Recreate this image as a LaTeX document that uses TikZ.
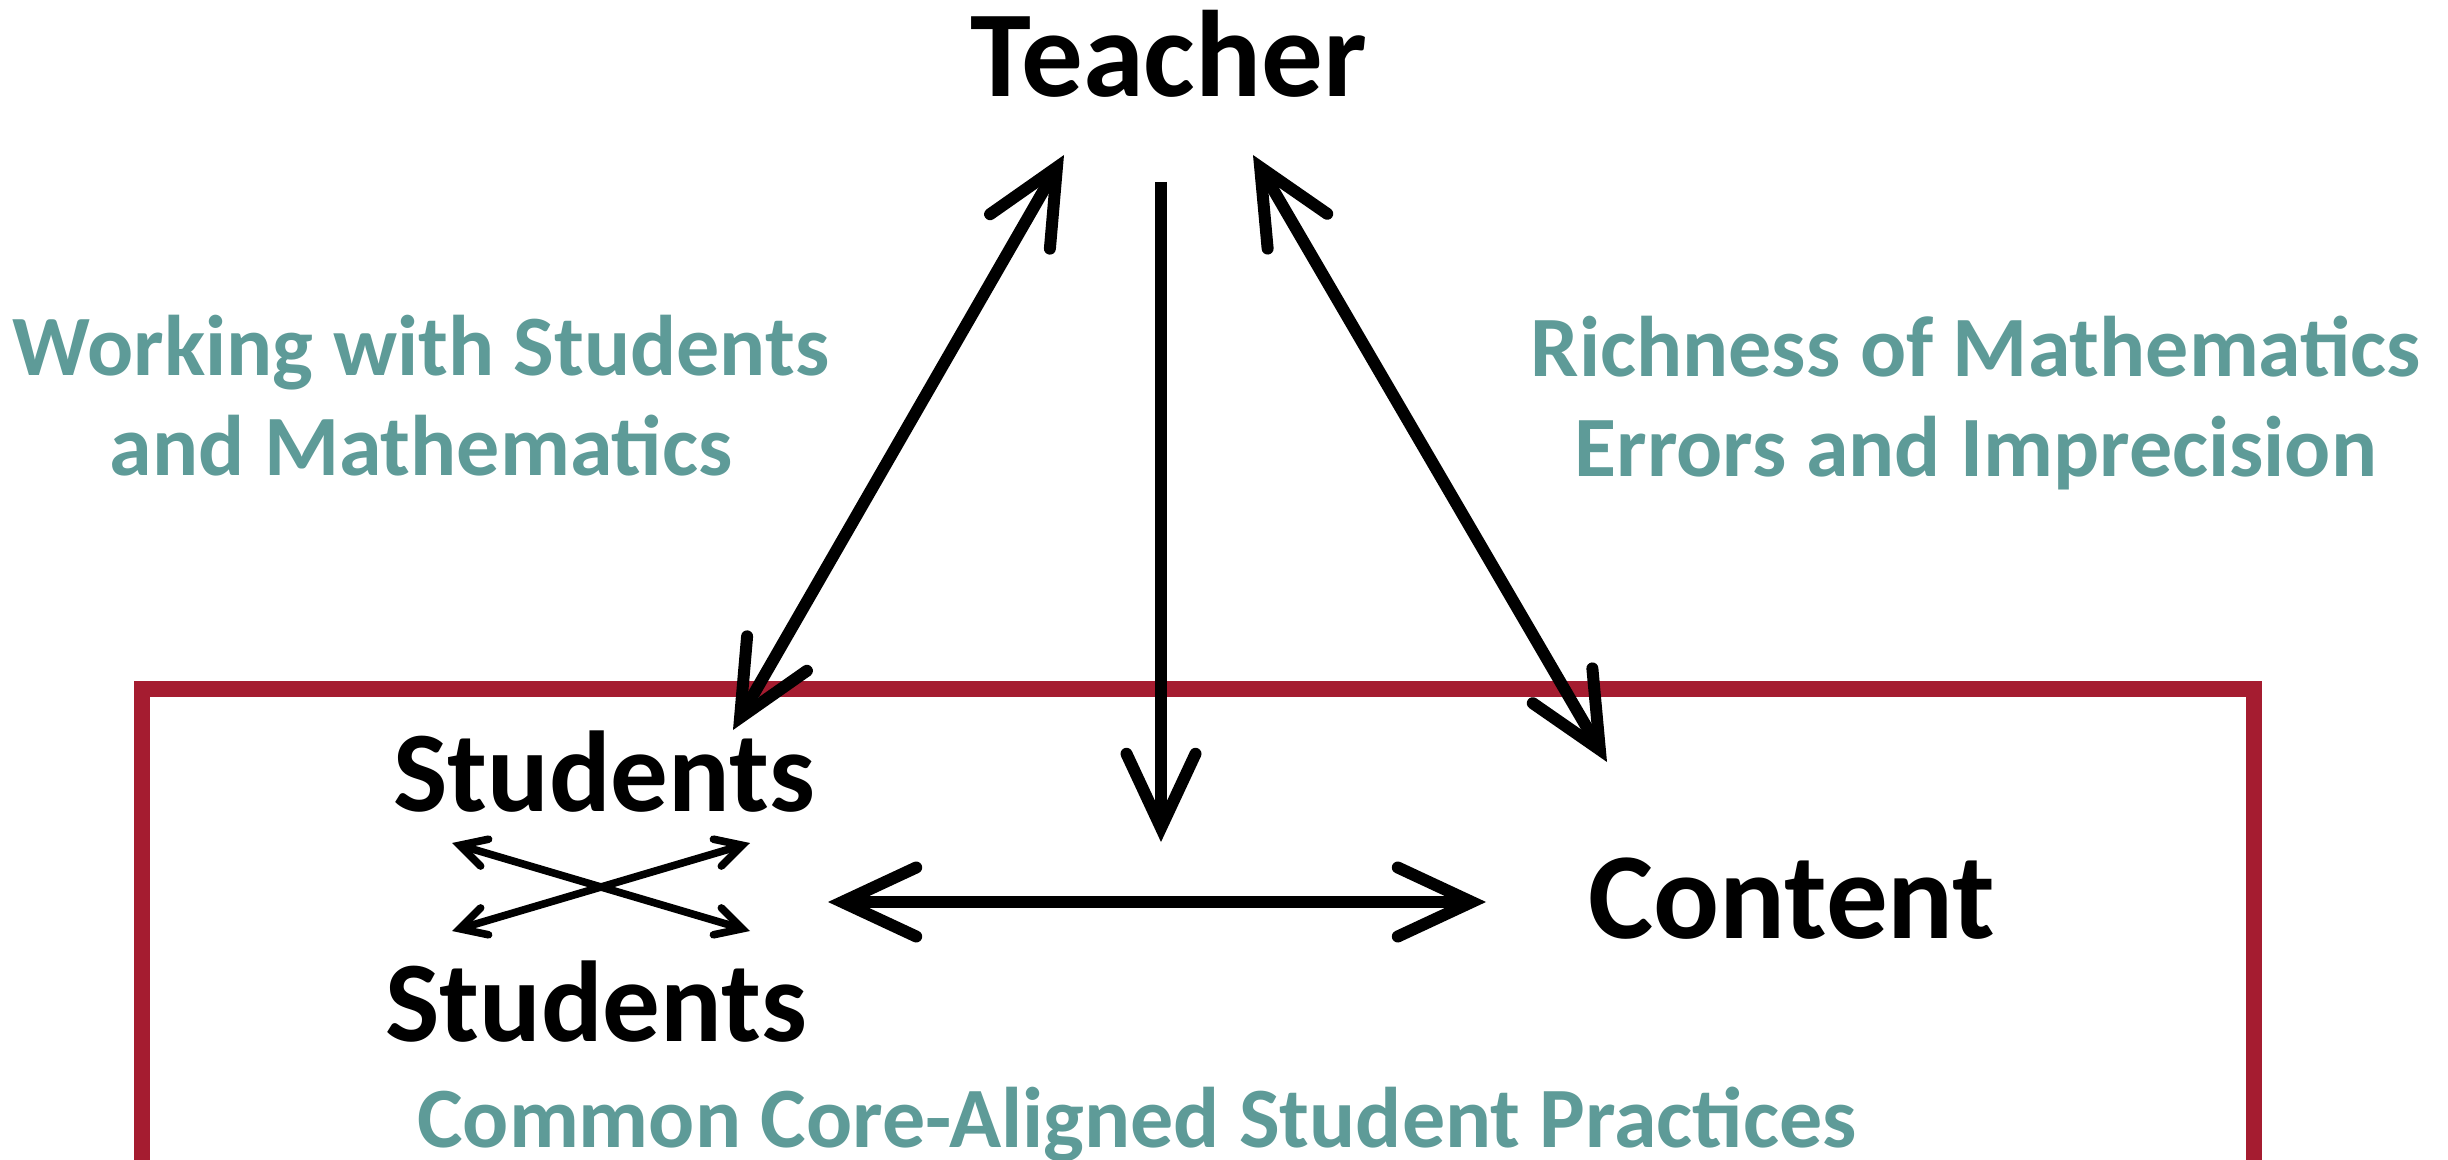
\documentclass[tikz,border=0pt]{standalone}
\usepackage{fontspec}
\setmainfont{Carlito}
\usetikzlibrary{arrows.meta}
\definecolor{labelteal}{RGB}{94,155,152}
\definecolor{boxred}{RGB}{165,28,48}
\tikzset{
  bighead/.tip={Straight Barb[length=37pt,width=34.5pt,line cap=round,line join=miter]},
  smallhead/.tip={Straight Barb[length=13pt,width=14pt,line cap=round,line join=miter]},
  bigarrow/.style={draw=black,line width=6pt},
  smallarrow/.style={draw=black,line width=3.8pt},
  mainlabel/.style={font=\bfseries\fontsize{61.5}{70}\selectfont,inner sep=0pt,anchor=base},
  studlabel/.style={font=\bfseries\fontsize{57.5}{66}\selectfont,inner sep=0pt,anchor=base},
  themelabel/.style={font=\bfseries\fontsize{43}{50}\selectfont,text=labelteal,inner sep=0pt,anchor=base,align=center},
  frame/.style={draw=boxred,line width=8pt,line join=miter}
}
\begin{document}
\begin{tikzpicture}[x=0.5pt,y=-0.5pt]
\clip (0,0) rectangle (2448,1160);
\fill[white] (0,0) rectangle (2448,1160);
% frame
\draw[frame] (142,1220) -- (142,689) -- (2254,689) -- (2254,1220);
% labels
\node[mainlabel] (teacher) at (1169,97) {Teacher};
\node[studlabel] (stud1) at (604,811) {Students};
\node[studlabel] (stud2) at (596,1041) {Students};
\node[mainlabel] (content) at (1792,938) {Content};
\node[themelabel] (work) at (421,476) {Working with Students\\and Mathematics};
\node[themelabel] (rich) at (1976,477) {Richness of Mathematics\\Errors and Imprecision};
\node[themelabel] (common) at (1137,1147) {Common Core-Aligned Student Practices};
% arrow end points
\coordinate (tL) at (1064,155);
\coordinate (sL) at (733,730);
\coordinate (tM) at (1161,182);
\coordinate (cM) at (1161,842);
\coordinate (tR) at (1253,155);
\coordinate (cR) at (1607,762);
\coordinate (hL) at (828,902);
\coordinate (hR) at (1486,902);
\coordinate (xA) at (452,843);
\coordinate (xB) at (750,931);
\coordinate (xC) at (452,931);
\coordinate (xD) at (750,843);
% arrows
\draw[bigarrow,{bighead}-{bighead}] (sL) -- (tL);
\draw[bigarrow,-{bighead}] (tM) -- (cM);
\draw[bigarrow,{bighead}-{bighead}] (tR) -- (cR);
\draw[bigarrow,{bighead}-{bighead}] (hL) -- (hR);
\draw[smallarrow,{smallhead}-{smallhead}] (xA) -- (xB);
\draw[smallarrow,{smallhead}-{smallhead}] (xC) -- (xD);
\end{tikzpicture}
\end{document}
